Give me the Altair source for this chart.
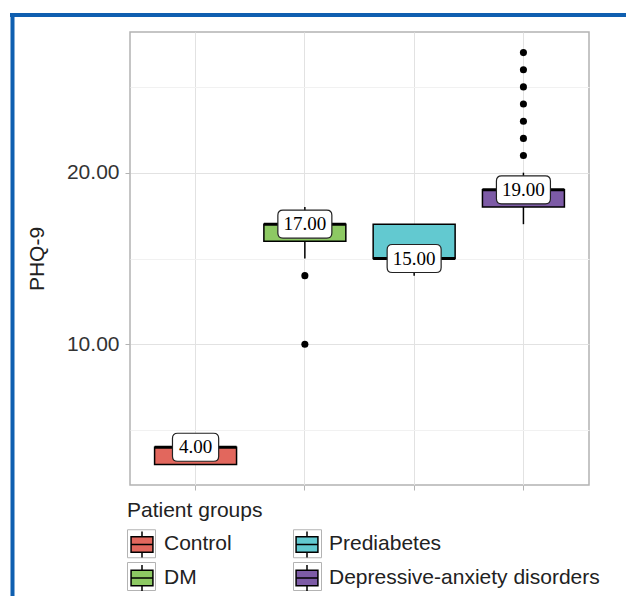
import altair as alt
import pandas as pd

# ---- data ----
groups = ["Control", "DM", "Prediabetes", "Depressive-anxiety disorders"]
colors = ["#E2675D", "#8DC963", "#62C9D0", "#7D5BA6"]
q1 = [3, 16, 15, 18]
medians = [4, 17, 15, 19]
q3 = [4, 17, 17, 19]
whisker_low = [3, 15, 14, 17]
whisker_high = [4, 18, 17, 20]
outlier_groups = ["DM", "DM"] + ["Depressive-anxiety disorders"] * 7
outlier_values = [14, 10, 21, 22, 23, 24, 25, 26, 27]
y_ticks = [5, 10, 15, 20, 25]

stats = pd.DataFrame(dict(group=groups, q1=q1, median=medians, q3=q3,
                          lo=whisker_low, hi=whisker_high))
outliers = pd.DataFrame(dict(group=outlier_groups, value=outlier_values))

W, H = 459, 453
FONT = "Liberation Sans"
FS = 21


def rounded_rect(a, b, r):
    return (f"M {-a+r} {-b} L {a-r} {-b} Q {a} {-b} {a} {-b+r} "
            f"L {a} {b-r} Q {a} {b} {a-r} {b} L {-a+r} {b} "
            f"Q {-a} {b} {-a} {b-r} L {-a} {-b+r} Q {-a} {-b} {-a+r} {-b} Z")


# label box shapes: size 3600 -> 30 px per path unit
wide_box = rounded_rect(0.9, 0.467, 0.17)
narrow_box = rounded_rect(0.77, 0.467, 0.17)

legend_symbol = ("M -0.78 -0.55 L 0.78 -0.55 L 0.78 0.55 L -0.78 0.55 Z "
                 "M -0.78 0 L 0.78 0 M 0 -0.55 L 0 -0.93 M 0 0.55 L 0 0.93")

legend_common = dict(orient="none", legendX=-3, legendY=468, columns=2,
                     title="Patient groups", titleFont=FONT, titleFontSize=FS,
                     titleFontWeight="normal", titleColor="#222222", titlePadding=8,
                     labelFont=FONT, labelFontSize=FS, labelColor="#222222",
                     labelOffset=7, labelLimit=400, symbolSize=784, symbolOpacity=1,
                     rowPadding=0, columnPadding=60)

x_enc = alt.X("group:N", sort=groups,
              scale=alt.Scale(domain=groups, paddingInner=0, paddingOuter=0.1),
              axis=alt.Axis(title=None, labels=False, ticks=True, tickSize=5,
                            tickColor="#B3B3B3", tickWidth=1, domain=False,
                            grid=True, gridColor="#E2E2E2", gridWidth=1))

is_major = "datum.value % 10 === 0"
y_enc = alt.Y("lo:Q",
              scale=alt.Scale(domain=[1.8, 28.2], nice=False, zero=False),
              axis=alt.Axis(title="PHQ-9", values=y_ticks,
                            labelExpr=f"{is_major} ? format(datum.value, '.2f') : ''",
                            labelFontSize=FS, labelColor="#333333", labelFont=FONT,
                            labelPadding=6,
                            titleFontSize=FS, titleFont=FONT, titleFontWeight="normal",
                            titleColor="#222222", titlePadding=19,
                            tickSize=5, tickColor="#B3B3B3",
                            tickOpacity={"condition": {"test": is_major, "value": 1}, "value": 0},
                            gridColor={"condition": {"test": is_major, "value": "#E2E2E2"},
                                       "value": "#F1F1F1"},
                            domain=False))

base = alt.Chart(stats)
frame_data = alt.InlineData(values=[{"k": 0}])
frame_color = "#0F5FB0"

frame_top = alt.Chart(frame_data).mark_rule(color=frame_color, strokeWidth=4).encode(
    x=alt.value(-120), x2=alt.value(496), y=alt.value(-17))
frame_left = alt.Chart(frame_data).mark_rule(color=frame_color, strokeWidth=4).encode(
    x=alt.value(-117.5), y=alt.value(-19), y2=alt.value(564))

# layer that supplies the grey key squares of the legend; its marks sit
# under the median label boxes, which hide them completely
legend_keys = base.transform_calculate(key="datum.group").mark_point(
    filled=False, color="#B3B3B3", strokeWidth=1, opacity=1, size=700).encode(
    x="group:N", y="median:Q",
    shape=alt.Shape("key:N", scale=alt.Scale(domain=groups, range=["square"] * 4),
                    legend=alt.Legend(**legend_common, symbolStrokeColor="#B3B3B3",
                                      symbolStrokeWidth=1, labelOpacity=0,
                                      titleOpacity=0, zindex=0)))

whiskers = base.mark_rule(color="black", strokeWidth=1.5).encode(
    x=x_enc, y=y_enc, y2="hi:Q")

boxes = base.mark_bar(stroke="black", strokeWidth=1.5, opacity=1,
                      width=alt.RelativeBandSize(0.75)).encode(
    x="group:N", y="q1:Q", y2="q3:Q",
    color=alt.Color("group:N",
                    scale=alt.Scale(domain=groups, range=colors),
                    legend=alt.Legend(**legend_common, symbolType=legend_symbol,
                                      symbolStrokeColor="black", symbolStrokeWidth=1.5,
                                      zindex=1)))

median_ticks = base.mark_tick(color="black", thickness=3, size=82, opacity=1).encode(
    x="group:N", y="median:Q")

points = alt.Chart(outliers).mark_circle(size=50, color="black", opacity=1).encode(
    x="group:N", y="value:Q")

labelled = base.transform_calculate(label="format(datum.median, '.2f')")

box_wide = labelled.transform_filter("length(datum.label) > 4").mark_point(
    shape=wide_box, size=3600, filled=True, fill="white", stroke="#222222",
    strokeWidth=1.2, opacity=1).encode(x="group:N", y="median:Q")
box_narrow = labelled.transform_filter("length(datum.label) <= 4").mark_point(
    shape=narrow_box, size=3600, filled=True, fill="white", stroke="#222222",
    strokeWidth=1.2, opacity=1).encode(x="group:N", y="median:Q")

texts = labelled.mark_text(font="Liberation Serif", fontSize=19, color="black",
                           align="center", baseline="middle").encode(
    x="group:N", y="median:Q", text="label:N")

chart = alt.layer(frame_top, frame_left, legend_keys, whiskers, boxes, median_ticks,
                  points, box_wide, box_narrow, texts).properties(
    width=W, height=H,
    autosize=alt.AutoSizeParams(type="none"),
    padding={"left": 130, "top": 32, "right": 37, "bottom": 111},
).resolve_legend(color="independent", shape="independent").configure_view(
    stroke="#B3B3B3", strokeWidth=1.5)

chart.save("out.html", embed_options={"renderer": "svg", "actions": False})
